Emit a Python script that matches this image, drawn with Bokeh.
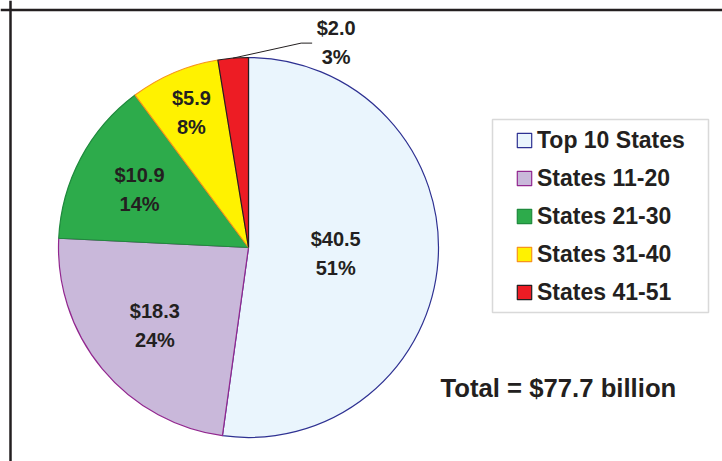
import math
from bokeh.plotting import figure
from bokeh.models import ColumnDataSource, Range1d, Span, Legend, LegendItem, Label, BoxAnnotation
from bokeh.core.properties import value
from bokeh.embed import file_html
from bokeh.resources import INLINE

# ---- data ----
categories = ["Top 10 States", "States 11-20", "States 21-30", "States 31-40", "States 41-51"]
amounts = [40.5, 18.3, 10.9, 5.9, 2.0]          # $ billion
percents = ["51%", "24%", "14%", "8%", "3%"]
total_label = "Total = $77.7 billion"

# ---- styles ----
fill_colors = ["#EAF5FD", "#C9B8DA", "#2DAB4B", "#FFF200", "#ED1C24"]
line_colors = ["#2E3192", "#92278F", "#1F8A3D", "#F7941D", "#231F20"]
label_r_frac = [0.46, 0.64, 0.65, 0.77, None]   # None -> callout outside
TXT = "#231F20"
FONT = "Liberation Sans"

W, H = 722, 461
cx, cy_px, R = 248, 247, 190
cy = H - cy_px

total = sum(amounts)
starts, ends, mids = [], [], []
cum = 0.0
for a in amounts:
    s = math.pi / 2 - 2 * math.pi * cum / total
    cum += a
    e = math.pi / 2 - 2 * math.pi * cum / total
    starts.append(s)
    ends.append(e)
    mids.append((s + e) / 2)

src = ColumnDataSource(dict(
    start=starts, end=ends, fill=fill_colors, line=line_colors, label=categories,
    x=[cx] * len(amounts), y=[cy] * len(amounts),
))

p = figure(width=W, height=H, output_backend="svg", toolbar_location=None,
           x_range=Range1d(0, W), y_range=Range1d(0, H), min_border=0,
           background_fill_color="white", border_fill_color="white")
p.axis.visible = False
p.grid.visible = False
p.outline_line_color = None

wr = p.wedge(x="x", y="y", radius=R, start_angle="start", end_angle="end",
             direction="clock", fill_color="fill", line_color="line",
             line_width=1.2, source=src)

# labels inside slices
vx, vy, px_, py_, vt, pt = [], [], [], [], [], []
for i, a in enumerate(amounts):
    f = label_r_frac[i]
    if f is None:
        continue
    lx = cx + f * R * math.cos(mids[i])
    ly = cy + f * R * math.sin(mids[i])
    vt.append(f"${a:.1f}")
    pt.append(percents[i])
    vx.append(lx); vy.append(ly + 14.5)
    px_.append(lx); py_.append(ly - 14.5)

lab = ColumnDataSource(dict(x=vx + px_, y=vy + py_, t=vt + pt))
p.text(x="x", y="y", text="t", source=lab, text_align="center",
       text_baseline="middle", text_font=value(FONT), text_font_style="bold",
       text_font_size="20px", text_color=TXT)

# callout for smallest slice
i = len(amounts) - 1
ax = cx + R * math.cos(mids[i])
ay = cy + R * math.sin(mids[i])
kx, ky = ax + 68, ay + 15
ex = kx + 11
p.line(x=[ax, kx, ex], y=[ay, ky, ky], line_color=TXT, line_width=1)
p.text(x=[ex + 24, ex + 24], y=[ky + 15, ky - 14],
       text=[f"${amounts[i]:.1f}", percents[i]], text_align="center",
       text_baseline="middle", text_font=value(FONT), text_font_style="bold",
       text_font_size="20px", text_color=TXT)

# total
p.add_layout(Label(x=440, y=H - 387.5, text=total_label, text_font=FONT,
                   text_font_style="bold", text_font_size="25.7px",
                   text_color=TXT, text_baseline="middle"))

# frame
p.add_layout(Span(location=H - 9.5, dimension="width", line_color=TXT, line_width=2.5))
p.add_layout(Span(location=10, dimension="height", line_color=TXT, line_width=2.5))

# legend box
p.add_layout(BoxAnnotation(left=492, right=708, top=H - 119, bottom=H - 312,
                           fill_color="white", fill_alpha=1.0,
                           line_color="#808080", line_width=1.5, level="annotation"))

# legend
items = [LegendItem(label=c, renderers=[wr], index=k) for k, c in enumerate(categories)]
leg = Legend(items=items, location=(515, H - 307), margin=0, padding=0,
             spacing=8, glyph_width=18, glyph_height=18, label_height=30,
             label_standoff=4,
             label_text_font=FONT, label_text_font_style="bold",
             label_text_font_size="23px", label_text_color=TXT,
             border_line_color=None, background_fill_alpha=0.0)
p.add_layout(leg)

open("out.html", "w").write(file_html(p, INLINE))
